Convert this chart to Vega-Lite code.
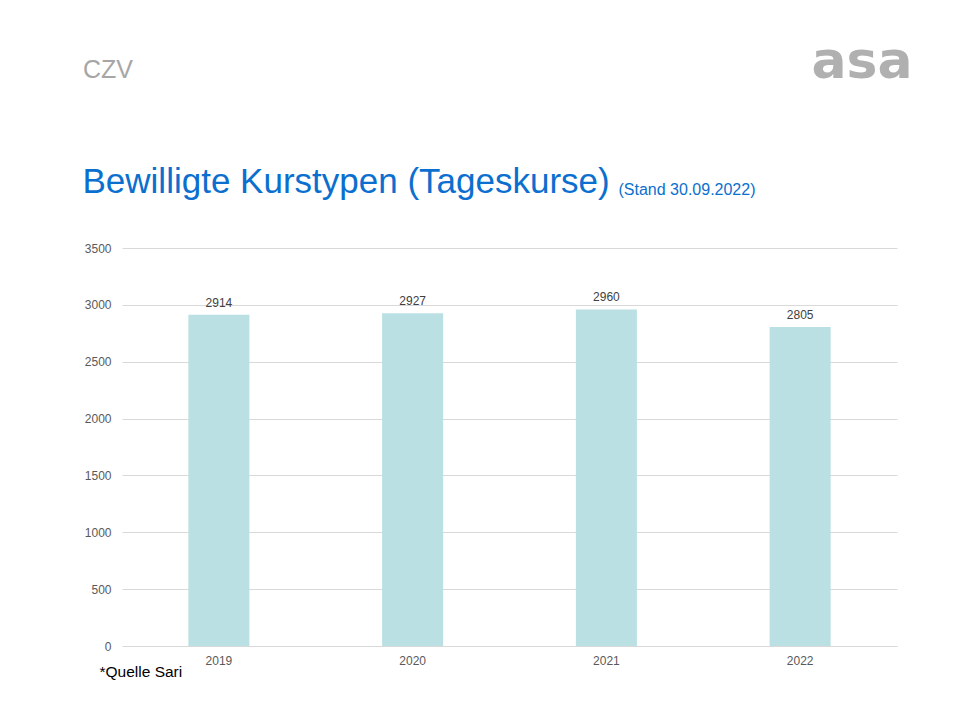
{
  "$schema": "https://vega.github.io/schema/vega-lite/v6.json",
  "autosize": "none",
  "padding": {"left": 122, "top": 248, "right": 58, "bottom": 74},
  "width": 775,
  "height": 398,
  "background": "#ffffff",
  "config": {
    "view": {"stroke": null},
    "font": "Liberation Sans",
    "axis": {"titleFontWeight": "normal", "titleLimit": 2000, "titleFont": "Liberation Sans"}
  },
  "title": {
    "text": "CZV",
    "anchor": "start",
    "frame": "group",
    "orient": "top",
    "dx": -39,
    "dy": 68,
    "offset": 0,
    "baseline": "alphabetic",
    "font": "Liberation Sans",
    "fontSize": 25,
    "fontWeight": "normal",
    "color": "#a6a6a6"
  },
  "data": {
    "values": [
      {"Jahr": "2019", "Anzahl": 2914},
      {"Jahr": "2020", "Anzahl": 2927},
      {"Jahr": "2021", "Anzahl": 2960},
      {"Jahr": "2022", "Anzahl": 2805}
    ]
  },
  "layer": [
    {
      "mark": {"type": "bar", "color": "#bbe0e3"},
      "encoding": {
        "x": {
          "field": "Jahr",
          "type": "ordinal",
          "scale": {"paddingInner": 0.685, "paddingOuter": 0.3425},
          "axis": {
            "orient": "bottom",
            "labelAngle": 0,
            "labelFontSize": 12,
            "labelColor": "#595959",
            "labelPadding": 9,
            "ticks": false,
            "domain": false,
            "title": "*Quelle Sari",
            "titleFontSize": 15.5,
            "titleColor": "#000000",
            "titleX": -23,
            "titleY": 30,
            "titleAlign": "left",
            "titleBaseline": "alphabetic",
            "titleAnchor": null
          }
        },
        "y": {
          "field": "Anzahl",
          "type": "quantitative",
          "scale": {"domain": [0, 3500], "nice": false},
          "axis": {
            "orient": "left",
            "values": [0, 500, 1000, 1500, 2000, 2500, 3000, 3500],
            "format": "d",
            "grid": true,
            "gridColor": "#d9d9d9",
            "gridWidth": 1,
            "ticks": false,
            "domain": false,
            "labelFontSize": 12,
            "labelColor": "#595959",
            "labelPadding": 11,
            "title": "Bewilligte Kurstypen (Tageskurse)",
            "titleAngle": 0,
            "titleFontSize": 35,
            "titleColor": "#0b6fcf",
            "titleX": -40,
            "titleY": -56,
            "titleAlign": "left",
            "titleBaseline": "alphabetic"
          }
        }
      }
    },
    {
      "mark": {"type": "text", "baseline": "alphabetic", "dy": -8, "fontSize": 12, "color": "#404040", "font": "Liberation Sans"},
      "encoding": {
        "x": {
          "field": "Jahr",
          "type": "ordinal",
          "axis": {
            "orient": "top",
            "labels": false,
            "ticks": false,
            "domain": false,
            "grid": false,
            "title": "(Stand 30.09.2022)",
            "titleFontSize": 16,
            "titleColor": "#0b6fcf",
            "titleX": 496,
            "titleY": -54,
            "titleAlign": "left",
            "titleBaseline": "alphabetic"
          }
        },
        "y": {
          "field": "Anzahl",
          "type": "quantitative",
          "axis": {
            "orient": "right",
            "labels": false,
            "ticks": false,
            "domain": false,
            "grid": false,
            "title": "asa",
            "titleAngle": 0,
            "titleFont": "DejaVu Sans",
            "titleFontWeight": "bold",
            "titleFontSize": 52,
            "titleColor": "#b0b0b0",
            "titleX": -86,
            "titleY": -171,
            "titleAlign": "left",
            "titleBaseline": "alphabetic"
          }
        },
        "text": {"field": "Anzahl", "type": "quantitative"}
      }
    }
  ],
  "resolve": {"axis": {"x": "independent", "y": "independent"}}
}
